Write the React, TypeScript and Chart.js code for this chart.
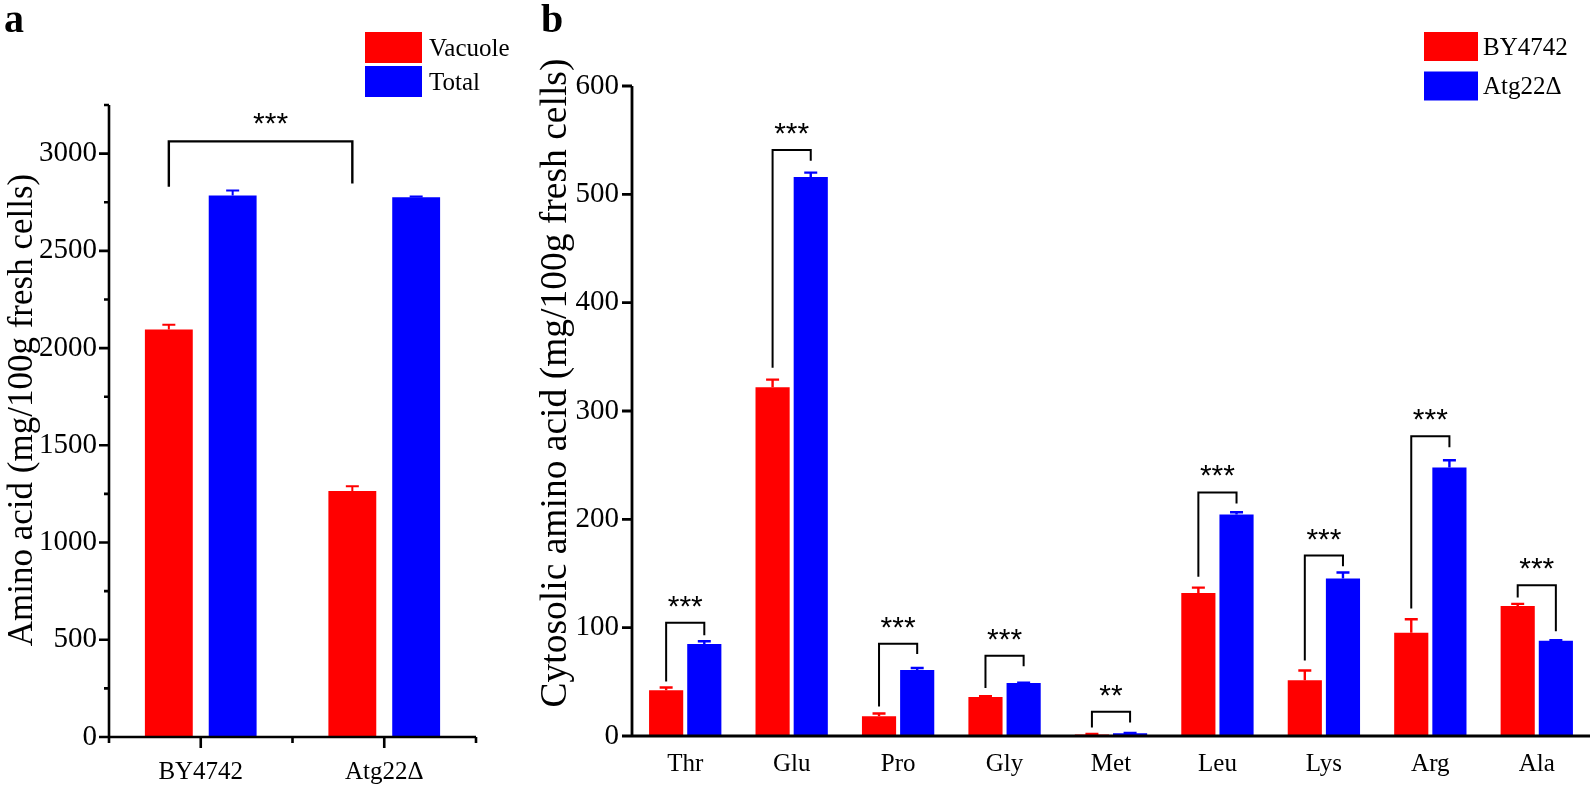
import React, { useEffect, useRef } from 'react';
import { Chart, registerables } from 'chart.js';

Chart.register(...registerables);

const SERIF = '"Liberation Serif", "Times New Roman", serif';
const SANS = '"Liberation Sans", Arial, sans-serif';
const RED = '#ff0000';
const BLUE = '#0000ff';

// ---------- Panel a data ----------
const strainLabels = ['BY4742', 'Atg22Δ'];
const vacuoleValues = [2095, 1265];
const vacuoleErrors = [25, 25];
const totalValues = [2785, 2775];
const totalErrors = [25, 5];
const panelASeriesNames = ['Vacuole', 'Total'];
const panelAYTitle = 'Amino acid (mg/100g fresh cells)';
const panelAYMax = 3250;
const panelAYStep = 250;
const panelAYLabelStep = 500;
const panelASig = '***';
const panelABracket = [3063, 2830, 2846]; // top, left end, right end (data units)

// ---------- Panel b data ----------
const aminoAcids = ['Thr', 'Glu', 'Pro', 'Gly', 'Met', 'Leu', 'Lys', 'Arg', 'Ala'];
const by4742Values = [42.3, 322, 18.3, 36, 1.5, 132, 51.5, 95.3, 120];
const by4742Errors = [2.5, 7, 2.5, 0.8, 0.4, 5, 9, 12.5, 2];
const atg22Values = [85, 516, 61, 49, 2.5, 204.5, 145.4, 247.8, 88];
const atg22Errors = [2.5, 4, 1.8, 0.3, 0.3, 2, 5.5, 6.8, 0.4];
const panelBSeriesNames = ['BY4742', 'Atg22Δ'];
const panelBYTitle = 'Cytosolic amino acid (mg/100g fresh cells)';
const panelBYMax = 600;
const panelBYStep = 100;
const sigLabels = ['***', '***', '***', '***', '**', '***', '***', '***', '***'];
const bracketTops = [104.5, 541, 85.2, 74, 22.3, 224.8, 166.6, 276.7, 139.2];
const bracketLeftEnds = [50.3, 340, 27.2, 44.4, 7.8, 147, 69.7, 117.7, 127.8];
const bracketRightEnds = [93, 531, 75.6, 64.5, 12.4, 214.6, 156.7, 266.6, 96.7];

type Bracket = {
  from: [number, number];
  to: [number, number];
  top: number;
  left: number;
  right: number;
  label: string;
  dx: number;
};

type Decor = {
  errors: number[][];
  capHalf: number;
  errWidth: number;
  axisWidth: number;
  yMajorStep: number;
  yMajorLen: number;
  yMinorLen: number;
  xTicks: boolean;
  xMajorLen: number;
  xMinorLen: number;
  brackets: Bracket[];
  bracketWidth: number;
  starFont: number;
  starBaseOffset: number;
  legend: { names: string[]; colors: string[]; x: number; ys: number[]; w: number; h: number; textX: number };
  title: { text: string; x: number; y: number; size: number };
  letter: { text: string; x: number; y: number };
};

function makeDecor(cfg: Decor) {
  return {
    id: 'decor',
    afterDatasetsDraw(chart: any) {
      const ctx = chart.ctx as CanvasRenderingContext2D;
      const xs = chart.scales.x;
      const ys = chart.scales.y;
      const area = chart.chartArea;
      ctx.save();
      // error bars (upper half)
      cfg.errors.forEach((errs, di) => {
        const meta = chart.getDatasetMeta(di);
        const ds = chart.data.datasets[di];
        ctx.strokeStyle = ds.backgroundColor;
        ctx.lineWidth = cfg.errWidth;
        meta.data.forEach((bar: any, i: number) => {
          const v = ds.data[i];
          const yv = ys.getPixelForValue(v);
          const ye = ys.getPixelForValue(v + errs[i]);
          ctx.beginPath();
          ctx.moveTo(bar.x, yv);
          ctx.lineTo(bar.x, ye);
          ctx.moveTo(bar.x - cfg.capHalf, ye);
          ctx.lineTo(bar.x + cfg.capHalf, ye);
          ctx.stroke();
        });
      });
      // axes
      ctx.strokeStyle = '#000';
      ctx.lineWidth = cfg.axisWidth;
      ctx.lineCap = 'butt';
      const yTopPx = ys.getPixelForValue(ys.max);
      ctx.beginPath();
      ctx.moveTo(area.left, yTopPx);
      ctx.lineTo(area.left, area.bottom + (cfg.xTicks ? cfg.xMinorLen : cfg.axisWidth / 2));
      ctx.moveTo(area.left - cfg.axisWidth / 2, area.bottom);
      ctx.lineTo(area.right, area.bottom);
      ys.ticks.forEach((t: any) => {
        const py = ys.getPixelForValue(t.value);
        const len = t.value % cfg.yMajorStep === 0 ? cfg.yMajorLen : cfg.yMinorLen;
        ctx.moveTo(area.left, py);
        ctx.lineTo(area.left - len, py);
      });
      if (cfg.xTicks) {
        const n = chart.data.labels.length;
        for (let i = 0; i < n; i++) {
          const px = xs.getPixelForValue(i);
          ctx.moveTo(px, area.bottom);
          ctx.lineTo(px, area.bottom + cfg.xMajorLen);
          if (i < n - 1) {
            const mid = (px + xs.getPixelForValue(i + 1)) / 2;
            ctx.moveTo(mid, area.bottom);
            ctx.lineTo(mid, area.bottom + cfg.xMinorLen);
          }
        }
        ctx.moveTo(area.right, area.bottom);
        ctx.lineTo(area.right, area.bottom + cfg.xMinorLen);
      }
      ctx.stroke();
      // brackets + stars
      cfg.brackets.forEach((b) => {
        const xl = chart.getDatasetMeta(b.from[0]).data[b.from[1]].x;
        const xr = chart.getDatasetMeta(b.to[0]).data[b.to[1]].x;
        const yt = ys.getPixelForValue(b.top);
        ctx.lineWidth = cfg.bracketWidth;
        ctx.lineJoin = 'miter';
        ctx.beginPath();
        ctx.moveTo(xl, ys.getPixelForValue(b.left));
        ctx.lineTo(xl, yt);
        ctx.lineTo(xr, yt);
        ctx.lineTo(xr, ys.getPixelForValue(b.right));
        ctx.stroke();
        ctx.fillStyle = '#000';
        ctx.font = `${cfg.starFont}px ${SANS}`;
        ctx.textAlign = 'center';
        ctx.textBaseline = 'alphabetic';
        ctx.fillText(b.label, (xl + xr) / 2 + b.dx, yt - cfg.starBaseOffset);
      });
      // legend
      const lg = cfg.legend;
      lg.names.forEach((name, i) => {
        ctx.fillStyle = lg.colors[i];
        ctx.fillRect(lg.x, lg.ys[i], lg.w, lg.h);
        ctx.fillStyle = '#000';
        ctx.font = `25px ${SERIF}`;
        ctx.textAlign = 'left';
        ctx.textBaseline = 'alphabetic';
        ctx.fillText(name, lg.textX, lg.ys[i] + lg.h / 2 + 8.3);
      });
      // y title
      ctx.save();
      ctx.translate(cfg.title.x, cfg.title.y);
      ctx.rotate(-Math.PI / 2);
      ctx.font = `${cfg.title.size}px ${SERIF}`;
      ctx.textAlign = 'center';
      ctx.textBaseline = 'alphabetic';
      ctx.fillStyle = '#000';
      ctx.fillText(cfg.title.text, 0, 0);
      ctx.restore();
      // panel letter
      ctx.font = `bold 40px ${SERIF}`;
      ctx.textAlign = 'left';
      ctx.textBaseline = 'alphabetic';
      ctx.fillStyle = '#000';
      ctx.fillText(cfg.letter.text, cfg.letter.x, cfg.letter.y);
      ctx.restore();
    },
  };
}

function baseOptions(opts: {
  yMax: number;
  yStep: number;
  labelStep: number;
  yWidth: number;
  xHeight: number;
  padding: { left: number; right: number; top: number; bottom: number };
  xPad: number;
  yPad: number;
}) {
  return {
    responsive: false,
    animation: false as const,
    devicePixelRatio: 1,
    layout: { padding: opts.padding },
    plugins: { legend: { display: false }, tooltip: { enabled: false }, title: { display: false } },
    scales: {
      x: {
        type: 'category' as const,
        offset: true,
        grid: { display: false, drawTicks: false },
        border: { display: false },
        ticks: {
          color: '#000',
          font: { family: SERIF, size: 25 },
          padding: opts.xPad,
          maxRotation: 0,
          autoSkip: false,
        },
        afterFit: (s: any) => {
          s.height = opts.xHeight;
        },
      },
      y: {
        type: 'linear' as const,
        min: 0,
        max: opts.yMax,
        grid: { display: false, drawTicks: false },
        border: { display: false },
        ticks: {
          stepSize: opts.yStep,
          autoSkip: false,
          color: '#000',
          font: { family: SERIF, size: 29 },
          padding: opts.yPad,
          callback: (v: any) => (Number(v) % opts.labelStep === 0 ? String(v) : ''),
        },
        afterFit: (s: any) => {
          s.width = opts.yWidth;
        },
      },
    },
  };
}

function PanelA() {
  const ref = useRef<HTMLCanvasElement | null>(null);
  useEffect(() => {
    if (!ref.current) return;
    const decor = makeDecor({
      errors: [vacuoleErrors, totalErrors],
      capHalf: 6.5,
      errWidth: 2,
      axisWidth: 2.6,
      yMajorStep: panelAYLabelStep,
      yMajorLen: 10,
      yMinorLen: 5,
      xTicks: true,
      xMajorLen: 11,
      xMinorLen: 6,
      brackets: [
        {
          from: [0, 0],
          to: [0, 1],
          top: panelABracket[0],
          left: panelABracket[1],
          right: panelABracket[2],
          label: panelASig,
          dx: 10,
        },
      ],
      bracketWidth: 2.4,
      starFont: 30,
      starBaseOffset: 8,
      legend: { names: panelASeriesNames, colors: [RED, BLUE], x: 365, ys: [32, 66], w: 57, h: 31, textX: 429 },
      title: { text: panelAYTitle, x: 32, y: 410, size: 35 },
      letter: { text: 'a', x: 4, y: 32 },
    });
    const chart = new Chart(ref.current, {
      type: 'bar',
      data: {
        labels: strainLabels,
        datasets: [
          { label: panelASeriesNames[0], data: vacuoleValues, backgroundColor: RED, borderWidth: 0, categoryPercentage: 0.6957, barPercentage: 0.75 },
          { label: panelASeriesNames[1], data: totalValues, backgroundColor: BLUE, borderWidth: 0, categoryPercentage: 0.6957, barPercentage: 0.75 },
        ],
      },
      options: baseOptions({
        yMax: panelAYMax,
        yStep: panelAYStep,
        labelStep: panelAYLabelStep,
        yWidth: 109,
        xHeight: 55,
        padding: { left: 0, right: 34, top: 105, bottom: 0 },
        xPad: 20,
        yPad: 12,
      }) as any,
      plugins: [decor],
    });
    return () => chart.destroy();
  }, []);
  return <canvas ref={ref} width={510} height={792} style={{ position: 'absolute', left: 0, top: 0, width: 510, height: 792 }} />;
}

function PanelB() {
  const ref = useRef<HTMLCanvasElement | null>(null);
  useEffect(() => {
    if (!ref.current) return;
    const brackets: Bracket[] = aminoAcids.map((_, i) => ({
      from: [0, i],
      to: [1, i],
      top: bracketTops[i],
      left: bracketLeftEnds[i],
      right: bracketRightEnds[i],
      label: sigLabels[i],
      dx: 0,
    }));
    const decor = makeDecor({
      errors: [by4742Errors, atg22Errors],
      capHalf: 6.5,
      errWidth: 2.4,
      axisWidth: 2.8,
      yMajorStep: panelBYStep,
      yMajorLen: 10,
      yMinorLen: 10,
      xTicks: false,
      xMajorLen: 0,
      xMinorLen: 0,
      brackets,
      bracketWidth: 2,
      starFont: 30,
      starBaseOffset: 7,
      legend: { names: panelBSeriesNames, colors: [RED, BLUE], x: 904, ys: [32, 71.5], w: 54, h: 29, textX: 963 },
      title: { text: panelBYTitle, x: 46, y: 383, size: 37.5 },
      letter: { text: 'b', x: 21, y: 32 },
    });
    const chart = new Chart(ref.current, {
      type: 'bar',
      data: {
        labels: aminoAcids,
        datasets: [
          { label: panelBSeriesNames[0], data: by4742Values, backgroundColor: RED, borderWidth: 0, categoryPercentage: 0.717, barPercentage: 0.895 },
          { label: panelBSeriesNames[1], data: atg22Values, backgroundColor: BLUE, borderWidth: 0, categoryPercentage: 0.717, barPercentage: 0.895 },
        ],
      },
      options: baseOptions({
        yMax: panelBYMax,
        yStep: panelBYStep,
        labelStep: panelBYStep,
        yWidth: 112,
        xHeight: 56,
        padding: { left: 0, right: 6, top: 86, bottom: 0 },
        xPad: 13,
        yPad: 13,
      }) as any,
      plugins: [decor],
    });
    return () => chart.destroy();
  }, []);
  return <canvas ref={ref} width={1076} height={792} style={{ position: 'absolute', left: 520, top: 0, width: 1076, height: 792 }} />;
}

export default function App() {
  return (
    <div style={{ position: 'fixed', left: 0, top: 0, width: 1596, height: 792, background: '#fff', overflow: 'hidden' }}>
      <PanelA />
      <PanelB />
    </div>
  );
}
